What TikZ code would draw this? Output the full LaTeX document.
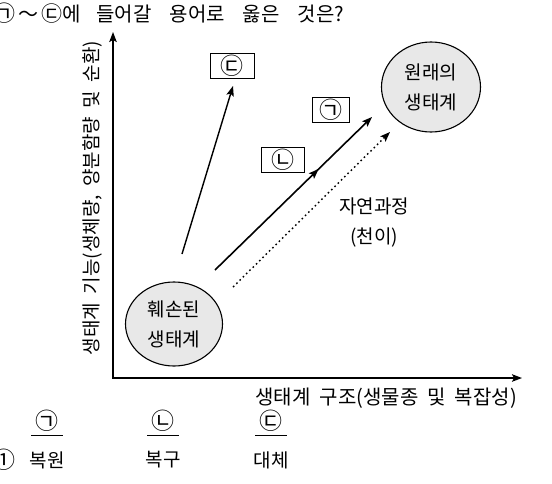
\documentclass[tikz,border=0pt]{standalone}
\usepackage{fontspec}
\setmainfont{Noto Sans CJK KR}[WordSpace=2]
\usetikzlibrary{arrows.meta,decorations.markings,shapes.geometric}
\tikzset{
  tip/.tip={Stealth[length=10pt,width=7.5pt,inset=2pt]},
  axis/.style={line width=1.4pt},
  arr/.style={line width=1.4pt,-tip},
  midarr/.style={line width=1.6pt,-tip,
    postaction={decorate},
    decoration={markings,mark=at position 0.66 with {\arrow{tip}}}},
  dotarr/.style={line width=1.4pt,dash pattern=on 1.6pt off 3pt,-tip},
  eco/.style={ellipse,draw,line width=1.1pt,fill=black!9,align=center,inner sep=0pt,
    font=\fontsize{19}{30}\selectfont},
  lbox/.style={draw,line width=0.9pt,inner sep=0pt,minimum height=25pt,font=\fontsize{23}{23}\selectfont},
  circ/.style={inner sep=0pt,font=\fontsize{23}{23}\selectfont},
  txt/.style={inner sep=0pt,font=\fontsize{19}{30}\selectfont},
}
\begin{document}
\begin{tikzpicture}[x=1pt,y=-1pt]
\useasboundingbox (0,0) rectangle (552,483);
\node[txt,anchor=west,font=\fontsize{20}{24}\selectfont] (title) at (-7,13) {{\fontsize{22}{22}\selectfont ㉠}\hspace{3pt}～\hspace{3pt}{\fontsize{21}{21}\selectfont ㉢}에\hspace{16pt}들어갈\hspace{18pt}용어로\hspace{18pt}옳은\hspace{18pt}것은?};
% axes
\coordinate (O) at (113,378);
\coordinate (Ytip) at (113,32);
\coordinate (Xtip) at (522,378);
\draw[axis,tip-tip] (Ytip) -- (O) -- (Xtip);
\node[txt,rotate=90] (ylab) at (92,198) {생태계 기능(생체량, 양분함량 및 순환)};
\node[txt,anchor=east,font=\fontsize{20}{24}\selectfont] (xlab) at (517,398) {생태계\hspace{9pt}구조(생물종\hspace{9pt}및\hspace{9pt}복잡성)};
% ecosystems
\node[eco,minimum width=97pt,minimum height=84pt] (dam) at (174,324) {훼손된\\생태계};
\node[eco,minimum width=99pt,minimum height=90pt] (orig) at (431,87) {원래의\\생태계};
% label boxes
\node[lbox,minimum width=44pt] (bc) at (232,65.5) {㉢};
\node[lbox,minimum width=37pt] (ba) at (330.5,109.5) {㉠};
\node[lbox,minimum width=43pt] (bb) at (282.5,160) {㉡};
% arrow ends
\coordinate (s1) at (182,254);
\coordinate (t1) at (233,86);
\coordinate (s2) at (215,270);
\coordinate (t2) at (372,117);
\coordinate (s3) at (233,287);
\coordinate (t3) at (390,132);
\draw[arr] (s1) -- (t1);
\draw[midarr] (s2) -- (t2);
\draw[dotarr] (s3) -- (t3);
\node[txt,align=center] (nat) at (374,222) {자연과정\\(천이)};
% answer row
\node[circ] (ha) at (47,421) {㉠};
\node[circ] (hb) at (163,421) {㉡};
\node[circ] (hc) at (271,421) {㉢};
\draw[line width=0.8pt] ([xshift=-16pt,yshift=-3pt]ha.south) -- ([xshift=16pt,yshift=-3pt]ha.south);
\draw[line width=0.8pt] ([xshift=-16pt,yshift=-3pt]hb.south) -- ([xshift=16pt,yshift=-3pt]hb.south);
\draw[line width=0.8pt] ([xshift=-16pt,yshift=-3pt]hc.south) -- ([xshift=16pt,yshift=-3pt]hc.south);
\node[circ] (n1) at (4,460) {①};
\node[txt] (a1) at (47,460) {복원};
\node[txt] (b1) at (163,460) {복구};
\node[txt] (c1) at (271,460) {대체};
\end{tikzpicture}
\end{document}
